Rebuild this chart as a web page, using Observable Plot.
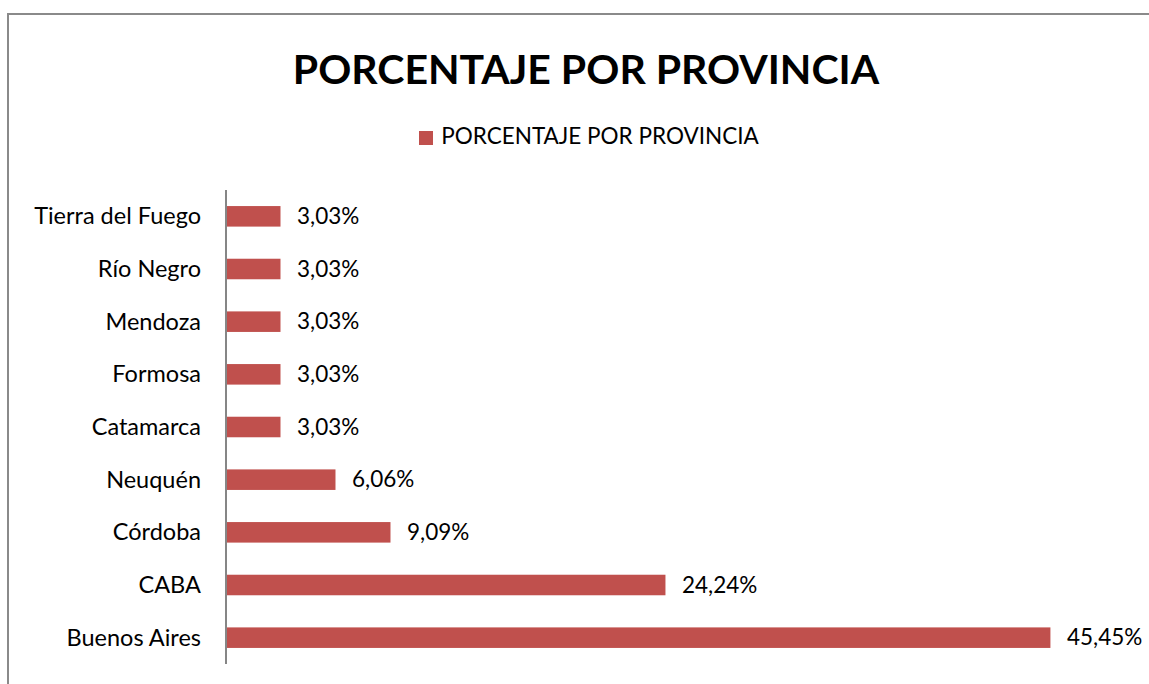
<!DOCTYPE html>
<html>
<head>
<meta charset="utf-8">
<script src="https://cdn.jsdelivr.net/npm/d3@7"></script>
<script src="https://cdn.jsdelivr.net/npm/@observablehq/plot@0.6"></script>
<style>
  html, body { margin: 0; padding: 0; background: #fff; width: 1149px; height: 684px; overflow: hidden; }
  body { font-family: Lato, "Open Sans", sans-serif; position: relative; }
  #frame { position: absolute; left: 7px; top: 13px; width: 1200px; height: 740px; border: 2px solid #8a8a8a; box-sizing: border-box; }
  #header { position: absolute; left: 0; top: 0; width: 1149px; height: 170px; }
  #title { position: absolute; top: 41px; left: 0; width: 1172px; text-align: center; font-weight: bold; font-size: 41px; color: #000; line-height: 56px; }
  #legend { position: absolute; top: 123px; left: 0; width: 1178px; text-align: center; font-size: 22.5px; color: #000; line-height: 26px; }
  #legend .sw { display: inline-block; width: 14px; height: 14px; background: #C0504D; margin-right: 8px; vertical-align: -1px; }
  #chart { position: absolute; left: 0; top: 170px; }
</style>
</head>
<body>
<div id="frame"></div>
<div id="header">
  <div id="title">PORCENTAJE POR PROVINCIA</div>
  <div id="legend"><span class="sw"></span>PORCENTAJE POR PROVINCIA</div>
</div>
<div id="chart"></div>
<script>
const provincias = ["Tierra del Fuego", "Río Negro", "Mendoza", "Formosa", "Catamarca", "Neuquén", "Córdoba", "CABA", "Buenos Aires"];
const porcentajes = [3.03, 3.03, 3.03, 3.03, 3.03, 6.06, 9.09, 24.24, 45.45];

const data = provincias.map((p, i) => ({provincia: p, valor: porcentajes[i]}));
const fmt = v => v.toFixed(2).replace(".", ",") + "%";

const chart = Plot.plot({
  width: 1149,
  height: 514,
  marginTop: 20,
  marginBottom: 20,
  marginLeft: 225.5,
  marginRight: 16,
  style: { fontFamily: "Lato, 'Open Sans', sans-serif", fontSize: "23.5px", color: "#000", background: "transparent" },
  x: { domain: [0, 50], axis: null },
  y: { domain: provincias, paddingInner: 0.61, paddingOuter: 0.305, round: false, label: null, tickSize: 0, tickPadding: 25 },
  marks: [
    Plot.barX(data, { x: "valor", y: "provincia", fill: "#C0504D" }),
    Plot.ruleX([0], { stroke: "#868686", strokeWidth: 2 }),
    Plot.text(data, { x: "valor", y: "provincia", text: d => fmt(d.valor), dx: 16, textAnchor: "start", fill: "#000", fontSize: 22.5 })
  ]
});
document.getElementById("chart").appendChild(chart);
</script>
</body>
</html>
